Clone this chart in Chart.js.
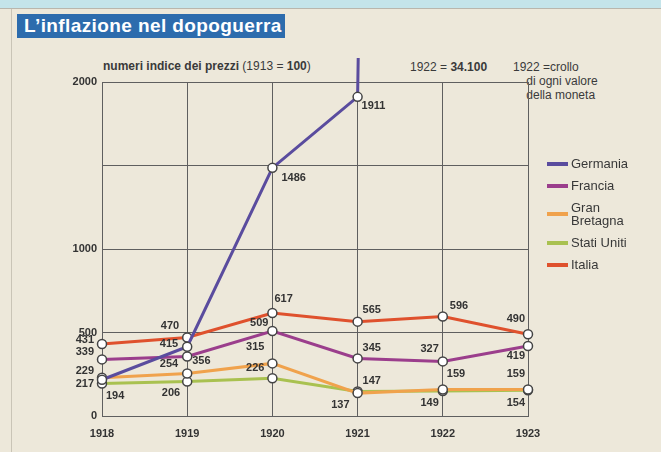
<!DOCTYPE html>
<html>
<head>
<meta charset="utf-8">
<script src="https://cdn.jsdelivr.net/npm/chart.js@4/dist/chart.umd.min.js"></script>
<style>
  body { margin: 0; width: 661px; height: 452px; overflow: hidden; background: #ede8da; font-family: "Liberation Sans", Arial, sans-serif; color: #3a3a3a; }
  #strip { position: absolute; left: 0; top: 0; width: 661px; height: 8px; background: #c4e4ea; border-bottom: 1px solid #b9b6ad; }
  #frame { position: absolute; left: 11px; top: 9px; width: 660px; height: 460px; border-left: 1px solid #c9c4b6; }
  #title { position: absolute; left: 17px; top: 14px; width: 268px; height: 24px; background: #2d6cad; color: #fff; font-weight: bold; font-size: 19px; line-height: 24px; padding-left: 7px; box-sizing: border-box; letter-spacing: 0.4px; }
  .txt { position: absolute; font-size: 12px; white-space: nowrap; color: #3a3a3a; }
  #wrap { position: absolute; left: 0; top: 0; width: 661px; height: 452px; }
  #legend { position: absolute; left: 547px; top: 157px; font-size: 13px; color: #383838; }
  .item { position: relative; padding-left: 24px; line-height: 13px; }
  .sw { position: absolute; left: 0; width: 21px; height: 4px; }
</style>
</head>
<body>
<div id="strip"></div>
<div id="frame"></div>
<div id="title">L’inflazione nel dopoguerra</div>
<div class="txt" style="left:103px;top:59px"><b>numeri indice dei prezzi</b> (1913 = <b>100</b>)</div>
<div class="txt" style="left:410px;top:60px">1922 = <b>34.100</b></div>
<div class="txt" style="left:513px;top:60px;line-height:14px">1922 =crollo<br>&nbsp;&nbsp;&nbsp;&nbsp;di ogni valore<br>&nbsp;&nbsp;&nbsp;&nbsp;della moneta</div>
<div id="wrap"><canvas id="c" width="661" height="452"></canvas></div>
<div id="legend"></div>
<script>
const years = ['1918', '1919', '1920', '1921', '1922', '1923'];
const germania = [217, 415, 1486, 1911, 34100, null];
const francia = [339, 356, 509, 345, 327, 419];
const granBretagna = [229, 254, 315, 137, 159, 159];
const statiUniti = [194, 206, 226, 147, 149, 154];
const italia = [431, 470, 617, 565, 596, 490];

// label placement for each point: [dx, dy, align]
const labelPlace = {
  Germania: [[-8, 4, 'right'], [-9, -3, 'right'], [9, 10, 'left'], [4, 9, 'left'], null, null],
  Francia: [[-8, -7, 'right'], [5, 4, 'left'], [-4, -8, 'right'], [5, -10, 'left'], [-4, -12, 'right'], [-3, 10, 'right']],
  'Gran Bretagna': [[-8, -7, 'right'], [-9, -10, 'right'], [-8, -16, 'right'], [-8, 12, 'right'], [4, -15, 'left'], [-3, -15, 'right']],
  'Stati Uniti': [[4, 12, 'left'], [-7, 11, 'right'], [-8, -10, 'right'], [5, -10, 'left'], [-4, 12, 'right'], [-3, 13, 'right']],
  Italia: [[-8, -4, 'right'], [-8, -12, 'right'], [2, -14, 'left'], [5, -12, 'left'], [7, -10, 'left'], [-3, -15, 'right']]
}

function line(label, data, color, clip) {
  return {
    label: label,
    data: data,
    borderColor: color,
    backgroundColor: color,
    borderWidth: 3,
    tension: 0,
    pointRadius: 4.5,
    pointBackgroundColor: '#fff',
    pointBorderColor: '#444',
    pointBorderWidth: 1.5,
    clip: clip
  }
}

const datasets = [
  line('Germania', germania, '#5a4c9e', {left: 10, right: 10, bottom: 10, top: 24}),
  line('Francia', francia, '#9b3e8c', false),
  line('Gran Bretagna', granBretagna, '#f0a24c', false),
  line('Stati Uniti', statiUniti, '#a9c150', false),
  line('Italia', italia, '#df512d', false)
]

const pointLabels = {
  id: 'pointLabels',
  afterDatasetsDraw(chart) {
    const ctx = chart.ctx
    ctx.save()
    ctx.font = 'bold 11px "Liberation Sans", Arial, sans-serif'
    ctx.fillStyle = '#333'
    ctx.textBaseline = 'middle'
    chart.data.datasets.forEach((ds, i) => {
      const meta = chart.getDatasetMeta(i)
      ds.data.forEach((v, j) => {
        const p = labelPlace[ds.label][j]
        if (v == null || !p || v > 2000) return
        const pt = meta.data[j]
        ctx.textAlign = p[2]
        ctx.fillText(String(v), pt.x + p[0], pt.y + p[1])
      })
    })
    ctx.restore()
  }
}

new Chart(document.getElementById('c').getContext('2d'), {
  type: 'line',
  data: { labels: years, datasets: datasets },
  plugins: [pointLabels],
  options: {
    responsive: false,
    animation: false,
    layout: { padding: { left: 62, top: 82, right: 133, bottom: 6 } },
    plugins: { legend: { display: false }, tooltip: { enabled: false } },
    scales: {
      x: {
        offset: false,
        grid: { color: '#5f5f5f', lineWidth: 1, drawTicks: false },
        border: { color: '#5f5f5f' },
        ticks: { color: '#333', font: { weight: 'bold', size: 11, family: '"Liberation Sans", Arial' }, padding: 11, maxRotation: 0 },
        afterFit: s => { s.height = 30 }
      },
      y: {
        min: 0,
        max: 2000,
        grid: { color: '#5f5f5f', lineWidth: 1, drawTicks: false },
        border: { color: '#5f5f5f' },
        ticks: {
          stepSize: 500,
          color: '#333',
          padding: 5,
          font: { weight: 'bold', size: 11, family: '"Liberation Sans", Arial' },
          callback: v => v === 1500 ? '' : v
        },
        afterFit: s => { s.width = 40 }
      }
    }
  }
})

let legend = document.getElementById('legend')
let rows = { Germania: 'Germania', Francia: 'Francia', 'Gran Bretagna': 'Gran<br>Bretagna', 'Stati Uniti': 'Stati Uniti', Italia: 'Italia' }
datasets.forEach(ds => {
  let item = document.createElement('div')
  item.className = 'item'
  item.style.marginBottom = '9px'
  let lines = ds.label === 'Gran Bretagna' ? 2 : 1
  item.innerHTML = '<span class="sw" style="background:' + ds.borderColor + ';top:' + (lines * 13 / 2 - 2) + 'px"></span>' + rows[ds.label]
  legend.append(item)
})
</script>
</body>
</html>
